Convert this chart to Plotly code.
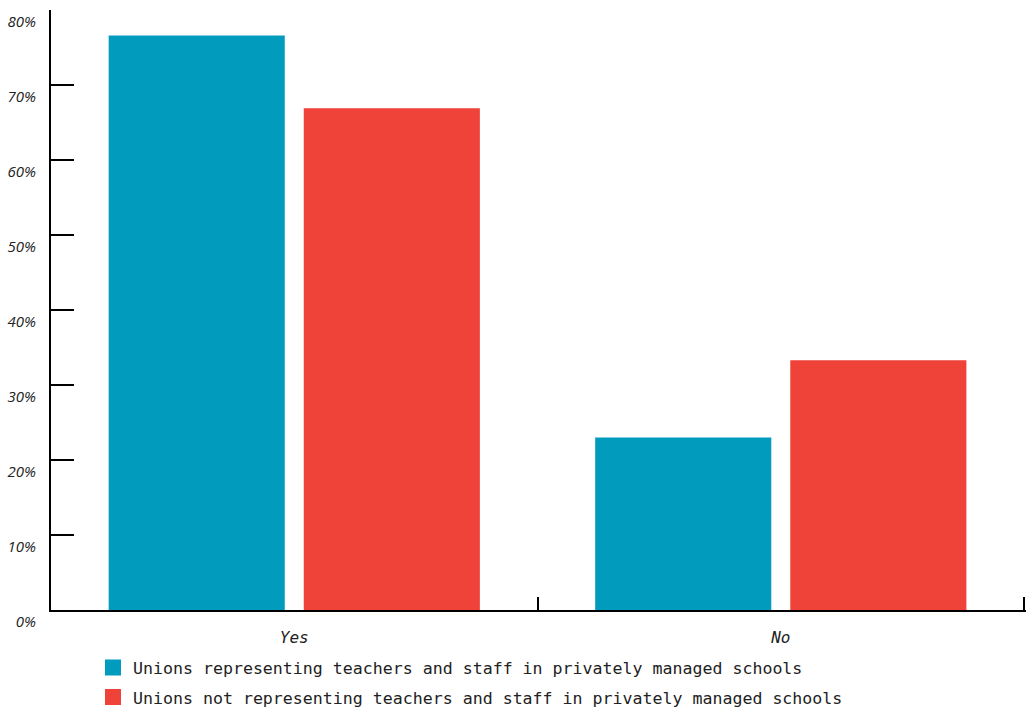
import plotly.graph_objects as go

categories = ["Yes", "No"]
series_names = [
    "Unions representing teachers and staff in privately managed schools",
    "Unions not representing teachers and staff in privately managed schools",
]
representing = [76.6, 23.0]
not_representing = [66.9, 33.3]
y_ticks = [0, 10, 20, 30, 40, 50, 60, 70, 80]
y_tick_labels = ["0%", "10%", "20%", "30%", "40%", "50%", "60%", "70%", "80%"]

colors = ["#019BBD", "#EF4238"]
mono = "DejaVu Sans Mono"

fig = go.Figure()
for i, (name, vals) in enumerate(zip(series_names, [representing, not_representing])):
    fig.add_trace(go.Bar(
        x=categories, y=vals, name=name, marker_color=colors[i],
        marker_line_width=0, showlegend=False,
    ))
# legend entries with larger square swatches
for i, name in enumerate(series_names):
    fig.add_trace(go.Scatter(
        x=[None], y=[None], mode="markers", name=name, legendgroup=f"g{i}",
        marker=dict(symbol="square", size=18, color=colors[i], line_width=0),
        showlegend=True,
    ))

fig.update_layout(
    width=1029, height=707,
    margin=dict(l=51, r=3, t=10, b=96.5, autoexpand=False),
    plot_bgcolor="white", paper_bgcolor="white",
    barmode="group", bargap=0.198, bargroupgap=0.0974,
    showlegend=True,
    legend=dict(
        x=(93 - 51) / 975, xanchor="left", y=-0.067, yanchor="top",
        font=dict(family=mono, size=16.6, color="#222"),
        traceorder="grouped", tracegroupgap=5, itemsizing="trace",
        bgcolor="rgba(0,0,0,0)",
    ),
    xaxis=dict(
        type="category", range=[-0.5, 1.504], tickson="boundaries",
        ticks="inside", ticklen=13, automargin=False,
        tickwidth=2, tickcolor="black", showline=True, linecolor="black",
        linewidth=2, showgrid=False, layer="below traces",
        tickfont=dict(family=mono, size=16, color="#222", style="italic"),
        ticklabelstandoff=12,
    ),
    yaxis=dict(
        range=[0, 80], tickvals=y_ticks, ticktext=y_tick_labels, ticks="inside",
        ticklen=23, tickwidth=2, tickcolor="black", showline=True, automargin=False,
        linecolor="black", linewidth=2, showgrid=False, zeroline=False,
        tickfont=dict(family="Open Sans", size=15, color="#222", style="italic"),
        ticklabelshift=12, ticklabelstandoff=10,
    ),
)

fig.write_html("out.html")
